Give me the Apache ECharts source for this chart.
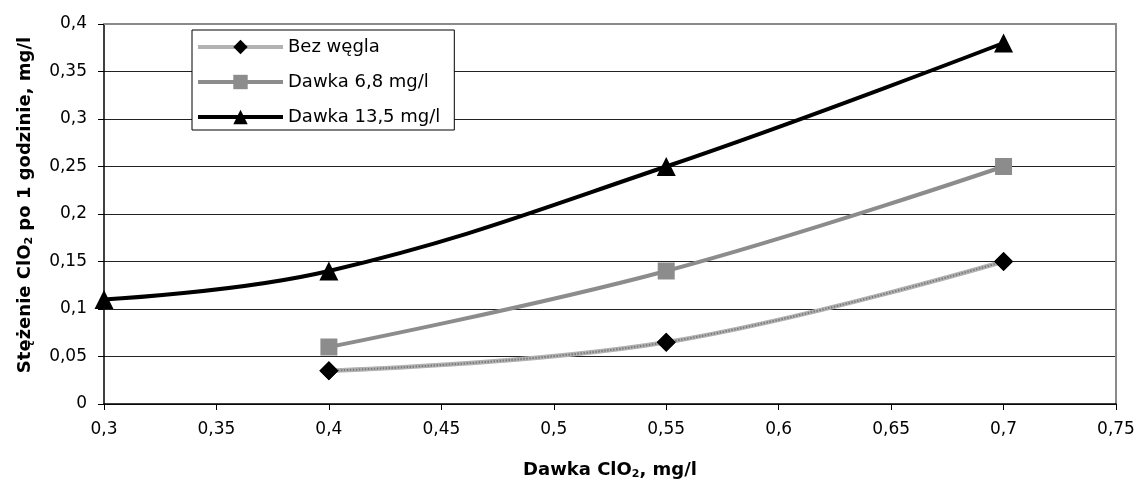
<!DOCTYPE html>
<html><head><meta charset="utf-8">
<script src="https://cdn.jsdelivr.net/npm/echarts@6/dist/echarts.min.js"></script>
<style>html,body{margin:0;padding:0;background:#fff}#c{width:1139px;height:483px}</style>
</head><body><div id="c"></div>
<script>
const seriesNames = ['Bez węgla', 'Dawka 6,8 mg/l', 'Dawka 13,5 mg/l'];
const bezWegla = [[0.4, 0.035], [0.55, 0.065], [0.7, 0.15]];
const dawka68 = [[0.4, 0.06], [0.55, 0.14], [0.7, 0.25]];
const dawka135 = [[0.3, 0.11], [0.4, 0.14], [0.55, 0.25], [0.7, 0.38]];
const xMin = 0.3, xMax = 0.75, xStep = 0.05;
const yMin = 0, yMax = 0.4, yStep = 0.05;
const xTitle = ['Dawka ClO', '2', ', mg/l'];
const yTitle = ['Stężenie ClO', '2', ' po 1 godzinie, mg/l'];

const fmt = v => String(+v.toFixed(2)).replace('.', ',');
const font = 'DejaVu Sans, sans-serif';
const titleRich = {
  b: { fontFamily: font, fontSize: 18, fontWeight: 'bold', fill: '#000', color: '#000' },
  s: { fontFamily: font, fontSize: 11, fontWeight: 'bold', fill: '#000', color: '#000', padding: [9, 0, 0, 0] }
};
const mkTitle = t => '{b|' + t[0] + '}{s|' + t[1] + '}{b|' + t[2] + '}';
const frameAxis = { show: true, axisLine: { show: true, onZero: false, lineStyle: { color: '#8a8a8a', width: 2 } },
  axisTick: { show: false }, axisLabel: { show: false }, splitLine: { show: false } };
const chart = echarts.init(document.getElementById('c'));
chart.setOption({
  animation: false,
  backgroundColor: '#fff',
  grid: { left: 104, right: 23, top: 24, bottom: 79 },
  legend: {
    orient: 'vertical', left: 192, top: 30,
    backgroundColor: '#fff', borderColor: '#000', borderWidth: 1,
    padding: [7, 14, 3, 4], itemGap: 15, itemWidth: 85, itemHeight: 18,
    lineStyle: { width: 4 },
    textStyle: { fontFamily: font, fontSize: 18, color: '#000', lineHeight: 20 },
    data: seriesNames
  },
  graphic: [
    { type: 'text', x: 610, y: 470, z: 100,
      style: { text: mkTitle(xTitle), rich: titleRich, align: 'center', verticalAlign: 'middle' } },
    { type: 'text', x: 25, y: 205, rotation: Math.PI / 2, z: 100,
      style: { text: mkTitle(yTitle), rich: titleRich, align: 'center', verticalAlign: 'middle' } }
  ],
  xAxis: [{
    type: 'value', min: xMin, max: xMax, interval: xStep,
    axisLine: { lineStyle: { color: '#000', width: 1.5 } },
    axisTick: { show: true, length: 6, lineStyle: { color: '#000' } },
    splitLine: { show: false },
    axisLabel: { formatter: fmt, fontFamily: font, fontSize: 17, color: '#000', margin: 17 }
  }, Object.assign({ type: 'value', position: 'top', min: xMin, max: xMax, interval: xStep }, frameAxis)],
  yAxis: [{
    type: 'value', min: yMin, max: yMax, interval: yStep,
    axisLine: { show: true, lineStyle: { color: '#000', width: 1.5 } },
    axisTick: { show: true, length: 6, lineStyle: { color: '#000' } },
    splitLine: { lineStyle: { color: '#222', width: 1 } },
    axisLabel: { formatter: fmt, fontFamily: font, fontSize: 17, color: '#000', margin: 17 }
  }, Object.assign({ type: 'value', position: 'right', min: yMin, max: yMax, interval: yStep }, frameAxis)],
  series: [
    { name: seriesNames[0], type: 'line', data: bezWegla, smooth: 0.4, symbol: 'diamond', symbolSize: 19,
      itemStyle: { color: '#000' }, lineStyle: { color: '#b2b2b2', width: 4.5 }, z: 3 },
    { name: seriesNames[0] + ' ', type: 'line', data: bezWegla, smooth: 0.4, symbol: 'diamond', symbolSize: 19,
      itemStyle: { color: '#000' }, lineStyle: { color: '#7a7a7a', width: 2, type: [1.5, 1.5] }, z: 4, silent: true },
    { name: seriesNames[1], type: 'line', data: dawka68, smooth: 0.4, symbol: 'rect', symbolSize: 17,
      itemStyle: { color: '#8c8c8c' }, lineStyle: { color: '#8c8c8c', width: 4 }, z: 3 },
    { name: seriesNames[2], type: 'line', data: dawka135, smooth: 0.4, symbol: 'triangle', symbolSize: 19,
      itemStyle: { color: '#000' }, lineStyle: { color: '#000', width: 4 }, z: 5 }
  ]
});
</script></body></html>
